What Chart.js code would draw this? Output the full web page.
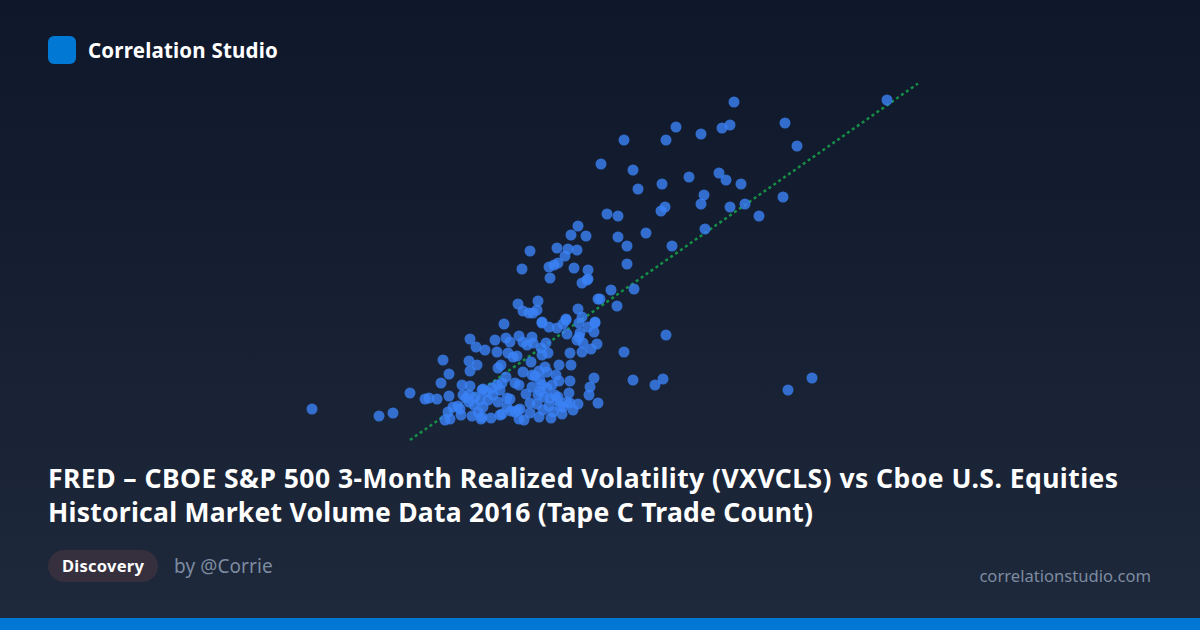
<!DOCTYPE html>
<html>
<head>
<meta charset="utf-8">
<title>Correlation Studio</title>
<script src="https://cdn.jsdelivr.net/npm/chart.js@4"></script>
<style>
  html, body { margin: 0; padding: 0; }
  body {
    width: 1200px; height: 630px; position: relative; overflow: hidden;
    background: linear-gradient(180deg, #0f172a 0%, #1e293b 100%);
    font-family: "Noto Sans", sans-serif; color: #fff;
  }
  #logo { position: absolute; left: 48px; top: 36px; width: 28px; height: 28px; border-radius: 6px; background: #0078d4; }
  #brand { position: absolute; left: 88px; top: 36px; line-height: 28px; font-size: 20.5px; letter-spacing: 0.2px; font-weight: 700; white-space: nowrap; }
  #plot { position: absolute; left: 290px; top: 80px; width: 640px; height: 365px; }
  #title { position: absolute; left: 48px; top: 461px; width: 1104px; font-size: 26.5px; line-height: 34px; font-weight: 700; white-space: nowrap; }
  #title .l1 { display: block; letter-spacing: 0.46px; }
  #title .l2 { display: block; letter-spacing: 0.25px; }
  #pill { position: absolute; left: 48px; top: 550px; height: 32px; line-height: 32px; padding: 0 14px; border-radius: 16px; background: #352f3e; font-size: 16.5px; letter-spacing: 0.25px; font-weight: 700; }
  #author { position: absolute; left: 174px; top: 550px; line-height: 32px; font-size: 19px; letter-spacing: 0.1px; color: #7d8ba1; }
  #site { position: absolute; right: 49px; top: 560px; line-height: 32px; font-size: 16.6px; color: #7d8ba1; }
  #bar { position: absolute; left: 0; bottom: 0; width: 1200px; height: 12px; background: #0078d4; }
</style>
</head>
<body>
<div id="logo"></div>
<div id="brand">Correlation Studio</div>
<div id="plot"><canvas id="chart"></canvas></div>
<div id="title"><span class="l1">FRED – CBOE S&amp;P 500 3-Month Realized Volatility (VXVCLS) vs Cboe U.S. Equities</span><span class="l2">Historical Market Volume Data 2016 (Tape C Trade Count)</span></div>
<div id="pill">Discovery</div>
<div id="author">by @Corrie</div>
<div id="site">correlationstudio.com</div>
<div id="bar"></div>
<script>
(function () {
  'use strict';

  // values, paired by index
  var volatility = [
    53.4, 68.7, 58.5, 59.7, 47.6, 46.6, 42.4, 50.1, 52.2, 53.0, 40.1, 43.3, 43.8, 46.2, 48.9, 51.9, 52.6, 54.1,
    50.4, 50.1, 46.5, 46.1, 53.0, 54.5, 58.3, 55.9, 40.7, 41.8, 50.5, 44.6, 41.8, 42.7, 47.2, 37.8, 37.1, 38.6,
    33.0, 35.7, 36.8, 37.7, 36.5, 35.8, 35.4, 34.9, 32.2, 37.4, 38.8, 42.7, 35.0, 38.8, 38.7, 38.2, 41.1, 43.4,
    39.8, 40.0, 41.7, 33.8, 31.8, 32.3, 33.7, 32.9, 33.3, 37.8, 38.2, 36.6, 34.2, 39.5,
    21.0, 22.5, 22.9, 23.7, 24.9, 24.1, 24.9, 24.3, 26.9, 27.7, 27.0, 27.0, 27.6, 28.5, 29.5, 30.4, 30.6, 31.0,
    29.7, 30.8, 31.3, 31.7, 30.1, 29.8, 31.9, 32.3, 33.2, 32.7, 33.3, 34.1, 34.6, 34.8, 34.2, 34.2, 34.9, 35.7,
    36.3, 36.6, 36.7, 37.9, 39.5, 38.8, 39.4, 38.0, 37.9, 37.7, 38.3, 39.7, 39.1, 38.2, 37.0, 42.4, 37.1, 35.9,
    37.0, 35.9, 39.4, 39.0, 38.9, 39.8, 43.3, 37.8, 37.3, 36.7, 36.0, 35.8, 35.3, 35.1, 33.9, 33.0, 31.9, 32.0,
    31.1, 30.2, 29.1, 28.2, 27.2, 26.1, 25.0, 24.5, 24.8, 25.3, 25.8, 26.9, 26.3, 26.9, 26.2, 27.0, 28.2, 28.7,
    29.2, 29.7, 30.2, 30.6, 31.0, 29.8, 28.8, 28.0, 27.5, 29.3, 28.3, 27.8, 30.7, 31.5, 31.9, 33.2, 34.2, 35.2,
    35.5, 33.2, 32.3, 34.0, 34.5, 34.7, 31.5, 36.3, 35.7, 31.8, 33.0, 33.8, 33.7, 34.3, 34.7, 37.0,
    11.2, 17.9, 19.3, 61.2, 58.8, 46.6, 46.3, 45.5,
    27.4, 28.3, 30.0, 30.7, 28.1, 26.6, 26.0, 33.5, 34.0, 34.9, 32.6, 33.9, 35.0, 36.2, 30.0, 32.4, 34.4, 35.6, 36.9, 33.1
  ];
  var tradeCount = [
    34.3, 34.5, 32.2, 29.9, 31.8, 30.5, 30.5, 31.1, 31.7, 32.0, 28.1, 27.5, 25.6, 26.1, 26.8, 27.2, 26.5, 26.1,
    25.0, 24.1, 23.8, 23.4, 23.8, 24.1, 24.8, 22.9, 23.1, 22.9, 21.6, 21.2, 20.8, 19.9, 19.9, 21.9, 21.0, 20.9,
    19.4, 19.7, 19.6, 19.5, 18.9, 18.2, 18.0, 17.8, 17.6, 17.7, 17.5, 18.1, 16.7, 16.6, 16.5, 16.2, 15.5, 15.6,
    14.6, 14.6, 13.9, 14.4, 14.1, 13.4, 13.5, 13.2, 13.2, 13.6, 12.8, 12.6, 12.3, 12.3,
    5.2, 4.6, 4.7, 4.6, 4.9, 6.2, 7.1, 8.5, 8.4, 8.0, 7.4, 10.6, 9.8, 9.5, 10.5, 12.1, 10.7, 10.3,
    9.3, 9.2, 8.8, 8.9, 8.0, 7.7, 10.9, 10.3, 10.8, 10.0, 10.2, 9.7, 10.2, 9.2, 9.0, 12.2, 11.8, 11.7,
    12.1, 12.5, 11.1, 12.2, 12.2, 11.8, 11.3, 11.2, 10.8, 10.5, 10.2, 10.1, 9.6, 9.3, 9.2, 9.3, 8.0, 8.0,
    6.4, 6.4, 6.7, 5.8, 5.0, 4.2, 6.5, 4.1, 3.5, 4.3, 3.9, 4.8, 3.3, 2.7, 2.8, 3.2, 2.6, 3.6,
    3.4, 3.1, 2.7, 2.8, 2.9, 3.0, 2.6, 2.5, 3.3, 3.8, 3.9, 4.3, 5.0, 5.0, 6.0, 5.9, 5.5, 5.3,
    5.7, 6.0, 6.2, 6.8, 4.6, 4.3, 4.5, 4.5, 4.8, 5.0, 3.8, 3.3, 3.8, 6.2, 6.0, 5.8, 6.0, 6.0,
    5.0, 7.0, 7.3, 6.5, 7.8, 7.3, 3.3, 3.8, 4.5, 3.5, 4.2, 5.0, 4.1, 3.5, 5.7, 4.2,
    3.6, 2.9, 3.2, 6.7, 5.5, 11.0, 6.6, 6.0,
    4.0, 5.6, 5.5, 4.7, 2.6, 4.7, 3.6, 6.9, 5.4, 3.9, 5.1, 7.4, 4.7, 3.1, 3.0, 2.5, 4.8, 7.0, 5.2, 8.3
  ];
  var trendX = [21.0, 71.8];
  var trendY = [0.5, 36.15];

  function toPoints(xs, ys) {
    return xs.map(function (x, i) { return { x: x, y: ys[i] }; });
  }

  new Chart(document.getElementById('chart'), {
    type: 'scatter',
    data: {
      datasets: [{
        data: toPoints(volatility, tradeCount),
        backgroundColor: 'rgba(59, 130, 246, 0.8)',
        borderWidth: 0,
        pointRadius: 5.5,
        order: 1
      }, {
        data: toPoints(trendX, trendY),
        showLine: true,
        borderColor: 'rgba(22, 163, 74, 0.85)',
        borderWidth: 2.5,
        borderDash: [3, 3],
        pointRadius: 0,
        fill: false,
        order: 2
      }]
    },
    options: {
      responsive: true,
      maintainAspectRatio: false,
      animation: false,
      layout: { padding: 0, autoPadding: false },
      plugins: { legend: { display: false }, tooltip: { enabled: false } },
      scales: {
        x: { type: 'linear', display: false, min: 9, max: 73 },
        y: { type: 'linear', display: false, min: 0, max: 36.5 }
      }
    }
  });
})();
</script>
</body>
</html>
